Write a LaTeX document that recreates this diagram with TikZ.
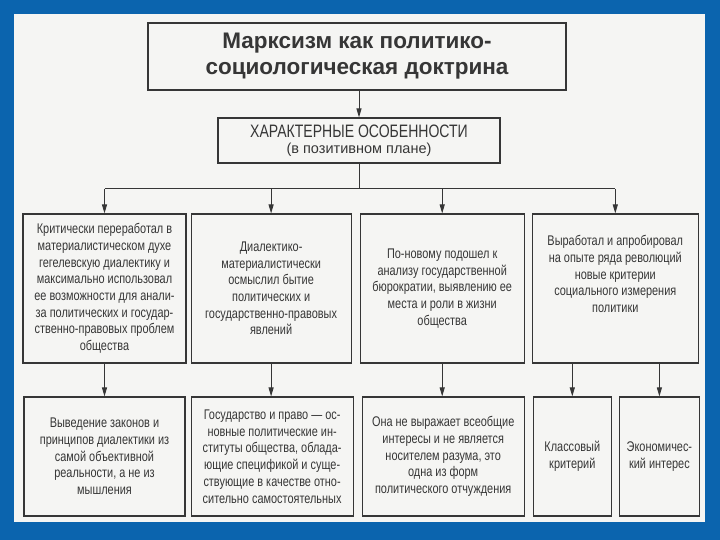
\documentclass[tikz,border=0pt]{standalone}
\usepackage{fontspec}
\setmainfont{Liberation Sans}
\newfontfamily\cond[FakeStretch=0.78]{Liberation Sans}
\newfontfamily\titlefont{Liberation Sans}
\usepackage{tikz}
\usetikzlibrary{positioning,arrows.meta}

\definecolor{slideblue}{HTML}{0B64AE}
\definecolor{paper}{HTML}{F5F5F3}
\definecolor{ink}{HTML}{363636}

\begin{document}
\begin{tikzpicture}[
        x=1pt, y=-1pt,
        node distance=4pt,
        >={Triangle[length=9pt,width=5pt]},
        titlebox/.style={rectangle, draw=ink, line width=1.2pt, align=center, inner sep=2pt, text=ink, font={\titlefont\bfseries\fontsize{22.5}{26}\selectfont}},
        headbox/.style={rectangle, draw=ink, line width=1.1pt, align=center, inner sep=2pt, text=ink, font={\fontsize{14.5}{16}\selectfont}},
        feat/.style={rectangle, draw=ink, line width=1.1pt, align=center, inner sep=2pt, minimum height=149pt, text=ink, font={\cond\fontsize{14}{16.7}\selectfont}},
        res/.style={rectangle, draw=ink, line width=1.1pt, align=center, inner sep=2pt, minimum height=119pt, text=ink, font={\cond\fontsize{14}{16.7}\selectfont}},
        arrow/.style={->, line width=1pt, draw=ink},
        link/.style={line width=1pt, draw=ink}
    ]
    \useasboundingbox (0,0) rectangle (720,540);
    \fill[slideblue] (0,0) rectangle (720,540);
    \fill[paper] (14,14) rectangle (705,522);

    \node[titlebox, minimum width=418pt, minimum height=67pt] (title) at (357,56.5) {Марксизм как политико-\\социологическая доктрина};
    \node[headbox, minimum width=282pt, minimum height=45pt] (head) at (359,140.5) {{\cond\fontsize{18}{16}\selectfont ХАРАКТЕРНЫЕ ОСОБЕННОСТИ}\\(в позитивном плане)};

    % features
    \node[feat, minimum width=163pt] (b1) at (104.5,288.5) {Критически переработал в\\материалистическом духе\\гегелевскую диалектику и\\максимально использовал\\ее возможности для анали-\\за политических и государ-\\ственно-правовых проблем\\общества};
    \node[feat, minimum width=160pt, right=of b1] (b2) {Диалектико-\\материалистически\\осмыслил бытие\\политических и\\государственно-правовых\\явлений};
    \node[feat, minimum width=164pt, right=8pt of b2] (b3) {По-новому подошел к\\анализу государственной\\бюрократии, выявлению ее\\места и роли в жизни\\общества};
    \node[feat, minimum width=166pt, right=7pt of b3] (b4) {Выработал и апробировал\\на опыте ряда революций\\новые критерии\\социального измерения\\политики\\[12pt]};

    % results
    \node[res, minimum width=161pt] (c1) at (104.5,456.5) {Выведение законов и\\принципов диалектики из\\самой объективной\\реальности, а не из\\мышления};
    \node[res, minimum width=162pt, right=5pt of c1] (c2) {Государство и право — ос-\\новные политические ин-\\ституты общества, облада-\\ющие спецификой и суще-\\ствующие в качестве отно-\\сительно самостоятельных};
    \node[res, minimum width=162pt, right=8pt of c2] (c3) {Она не выражает всеобщие\\интересы и не является\\носителем разума, это\\одна из форм\\политического отчуждения};
    \node[res, minimum width=78pt, right=8pt of c3] (c4) {Классовый\\критерий};
    \node[res, minimum width=80pt, right=7pt of c4] (c5) {Экономичес-\\кий интерес};

    \coordinate (bus) at (359,189);

    \draw[arrow] (title.south -| head.north) -- (head.north);
    \draw[link] (head.south) -- (head.south |- bus);
    \draw[link] (b1 |- bus) -- (b4 |- bus);
    \draw[arrow] (b1 |- bus) -- (b1.north);
    \draw[arrow] (b2 |- bus) -- (b2.north);
    \draw[arrow] (b3 |- bus) -- (b3.north);
    \draw[arrow] (b4 |- bus) -- (b4.north);

    \draw[arrow] (b1.south) -- (b1.south |- c1.north);
    \draw[arrow] (b2.south) -- (b2.south |- c2.north);
    \draw[arrow] (b3.south) -- (b3.south |- c3.north);
    \draw[arrow] (c4.north |- b4.south) -- (c4.north);
    \draw[arrow] (c5.north |- b4.south) -- (c5.north);
\end{tikzpicture}
\end{document}
